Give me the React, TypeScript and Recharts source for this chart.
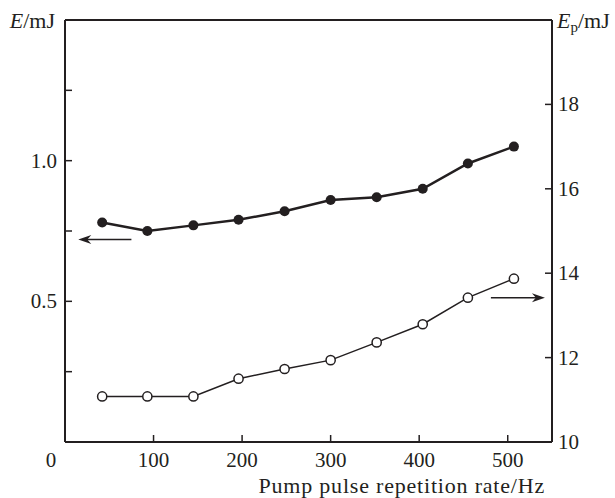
import { Label, Line, LineChart, ReferenceLine, XAxis, YAxis } from 'recharts';

const INK = '#231f20';
const FONT = '"Liberation Serif", "DejaVu Serif", serif';

// pump pulse repetition rate, Hz
const RATE_HZ = [42, 93, 145, 196, 248, 300, 352, 404, 455, 507];
// output energy E, mJ (left axis, filled dots)
const E_MJ = [0.78, 0.75, 0.77, 0.79, 0.82, 0.86, 0.87, 0.9, 0.99, 1.05];
// pump energy Ep, mJ (right axis, open dots)
const EP_MJ = [11.08, 11.08, 11.08, 11.5, 11.73, 11.94, 12.36, 12.79, 13.42, 13.87];

const X_TICKS = [0, 100, 200, 300, 400, 500];
const LEFT_TICKS = [0.25, 0.5, 0.75, 1.0, 1.25];
const LEFT_LABELS = [0.5, 1.0];
const RIGHT_TICKS = [10, 12, 14, 16, 18];

// arrows pointing to each series' axis
const LEFT_ARROW = { from: 75, to: 15, at: 0.72 };
const RIGHT_ARROW = { from: 481, to: 542, at: 13.42 };

const data = RATE_HZ.map((rate, i) => ({ rate, e: E_MJ[i], ep: EP_MJ[i] }));

const textStyle = { fontFamily: FONT, fontSize: 21, fill: INK };

const BottomTick = (props: any) => {
  const { x, y, payload } = props;
  const v = payload.value;
  return (
    <g>
      {v !== 0 && <line x1={x} x2={x} y1={y} y2={y - 7} stroke={INK} strokeWidth={1.5} />}
      <text x={v === 0 ? x - 14 : x} y={y + 25} textAnchor="middle" {...textStyle}>
        {v}
      </text>
    </g>
  );
};

const LeftTick = (props: any) => {
  const { x, y, payload } = props;
  const v = payload.value;
  return (
    <g>
      <line x1={x} x2={x + 7} y1={y} y2={y} stroke={INK} strokeWidth={1.5} />
      {LEFT_LABELS.includes(v) && (
        <text x={x - 8} y={y + 7} textAnchor="end" {...textStyle}>
          {v.toFixed(1)}
        </text>
      )}
    </g>
  );
};

const RightTick = (props: any) => {
  const { x, y, payload } = props;
  const v = payload.value;
  return (
    <g>
      {v !== 10 && <line x1={x} x2={x - 7} y1={y} y2={y} stroke={INK} strokeWidth={1.5} />}
      <text x={x + 6} y={y + 7} textAnchor="start" {...textStyle}>
        {v}
      </text>
    </g>
  );
};

const Arrow = (props: any) => {
  const { x1, y1, x2, y2 } = props;
  const dir = Math.sign(x2 - x1);
  return (
    <g>
      <line x1={x1} y1={y1} x2={x2 - dir * 6} y2={y2} stroke={INK} strokeWidth={1.4} />
      <path
        d={`M${x2},${y2} L${x2 - dir * 13},${y2 - 4.5} L${x2 - dir * 9},${y2} L${x2 - dir * 13},${y2 + 4.5} Z`}
        fill={INK}
      />
    </g>
  );
};

const FilledDot = (props: any) => {
  const { cx, cy } = props;
  return <circle cx={cx} cy={cy} r={5} fill={INK} stroke="none" />;
};

const OpenDot = (props: any) => {
  const { cx, cy } = props;
  return <circle cx={cx} cy={cy} r={4.6} fill="#fff" stroke={INK} strokeWidth={1.5} />;
};

export default function App() {
  return (
    <div style={{ position: 'absolute', left: 0, top: 0, background: '#fff' }}>
      <LineChart width={615} height={498} data={data} margin={{ top: 20, right: 0, bottom: 0, left: 0 }}>
        <XAxis
          dataKey="rate"
          type="number"
          domain={[0, 550]}
          ticks={X_TICKS}
          interval={0}
          height={56}
          axisLine={{ stroke: INK, strokeWidth: 2 }}
          tickLine={false}
          tickSize={0}
          tickMargin={0}
          tick={<BottomTick />}
        >
          <Label
            content={(p: any) => {
              const vb = p.viewBox;
              return (
                <text
                  x={vb.x + vb.width - 7}
                  y={vb.y + 51}
                  textAnchor="end"
                  {...textStyle}
                  fontSize={22}
                  letterSpacing={0.8}
                >
                  Pump pulse repetition rate/Hz
                </text>
              );
            }}
          />
        </XAxis>
        <YAxis
          yAxisId="left"
          orientation="left"
          domain={[0, 1.5]}
          ticks={LEFT_TICKS}
          interval={0}
          width={65}
          axisLine={{ stroke: INK, strokeWidth: 2 }}
          tickLine={false}
          tickSize={0}
          tickMargin={0}
          tick={<LeftTick />}
        >
          <Label
            content={(p: any) => {
              const vb = p.viewBox;
              return (
                <text x={vb.x + vb.width - 10} y={vb.y + 8} textAnchor="end" {...textStyle} fontSize={22}>
                  <tspan fontStyle="italic">E</tspan>
                  <tspan>/mJ</tspan>
                </text>
              );
            }}
          />
        </YAxis>
        <YAxis
          yAxisId="right"
          orientation="right"
          domain={[10, 20]}
          ticks={RIGHT_TICKS}
          interval={0}
          width={63}
          axisLine={{ stroke: INK, strokeWidth: 2 }}
          tickLine={false}
          tickSize={0}
          tickMargin={0}
          tick={<RightTick />}
        >
          <Label
            content={(p: any) => {
              const vb = p.viewBox;
              return (
                <text x={vb.x + 5} y={vb.y + 8} textAnchor="start" {...textStyle} fontSize={22}>
                  <tspan fontStyle="italic">E</tspan>
                  <tspan fontSize={15} dy={4}>p</tspan>
                  <tspan dy={-4}>/mJ</tspan>
                </text>
              );
            }}
          />
        </YAxis>
        <ReferenceLine yAxisId="left" y={1.5} stroke={INK} strokeWidth={2} />
        <ReferenceLine
          yAxisId="left"
          segment={[
            { x: LEFT_ARROW.from, y: LEFT_ARROW.at },
            { x: LEFT_ARROW.to, y: LEFT_ARROW.at },
          ]}
          shape={<Arrow />}
        />
        <ReferenceLine
          yAxisId="right"
          segment={[
            { x: RIGHT_ARROW.from, y: RIGHT_ARROW.at },
            { x: RIGHT_ARROW.to, y: RIGHT_ARROW.at },
          ]}
          shape={<Arrow />}
        />
        <Line
          yAxisId="left"
          dataKey="e"
          type="linear"
          stroke={INK}
          strokeWidth={2.5}
          dot={<FilledDot />}
          activeDot={false}
          isAnimationActive={false}
        />
        <Line
          yAxisId="right"
          dataKey="ep"
          type="linear"
          stroke={INK}
          strokeWidth={1.5}
          dot={<OpenDot />}
          activeDot={false}
          isAnimationActive={false}
        />
      </LineChart>
    </div>
  );
}
